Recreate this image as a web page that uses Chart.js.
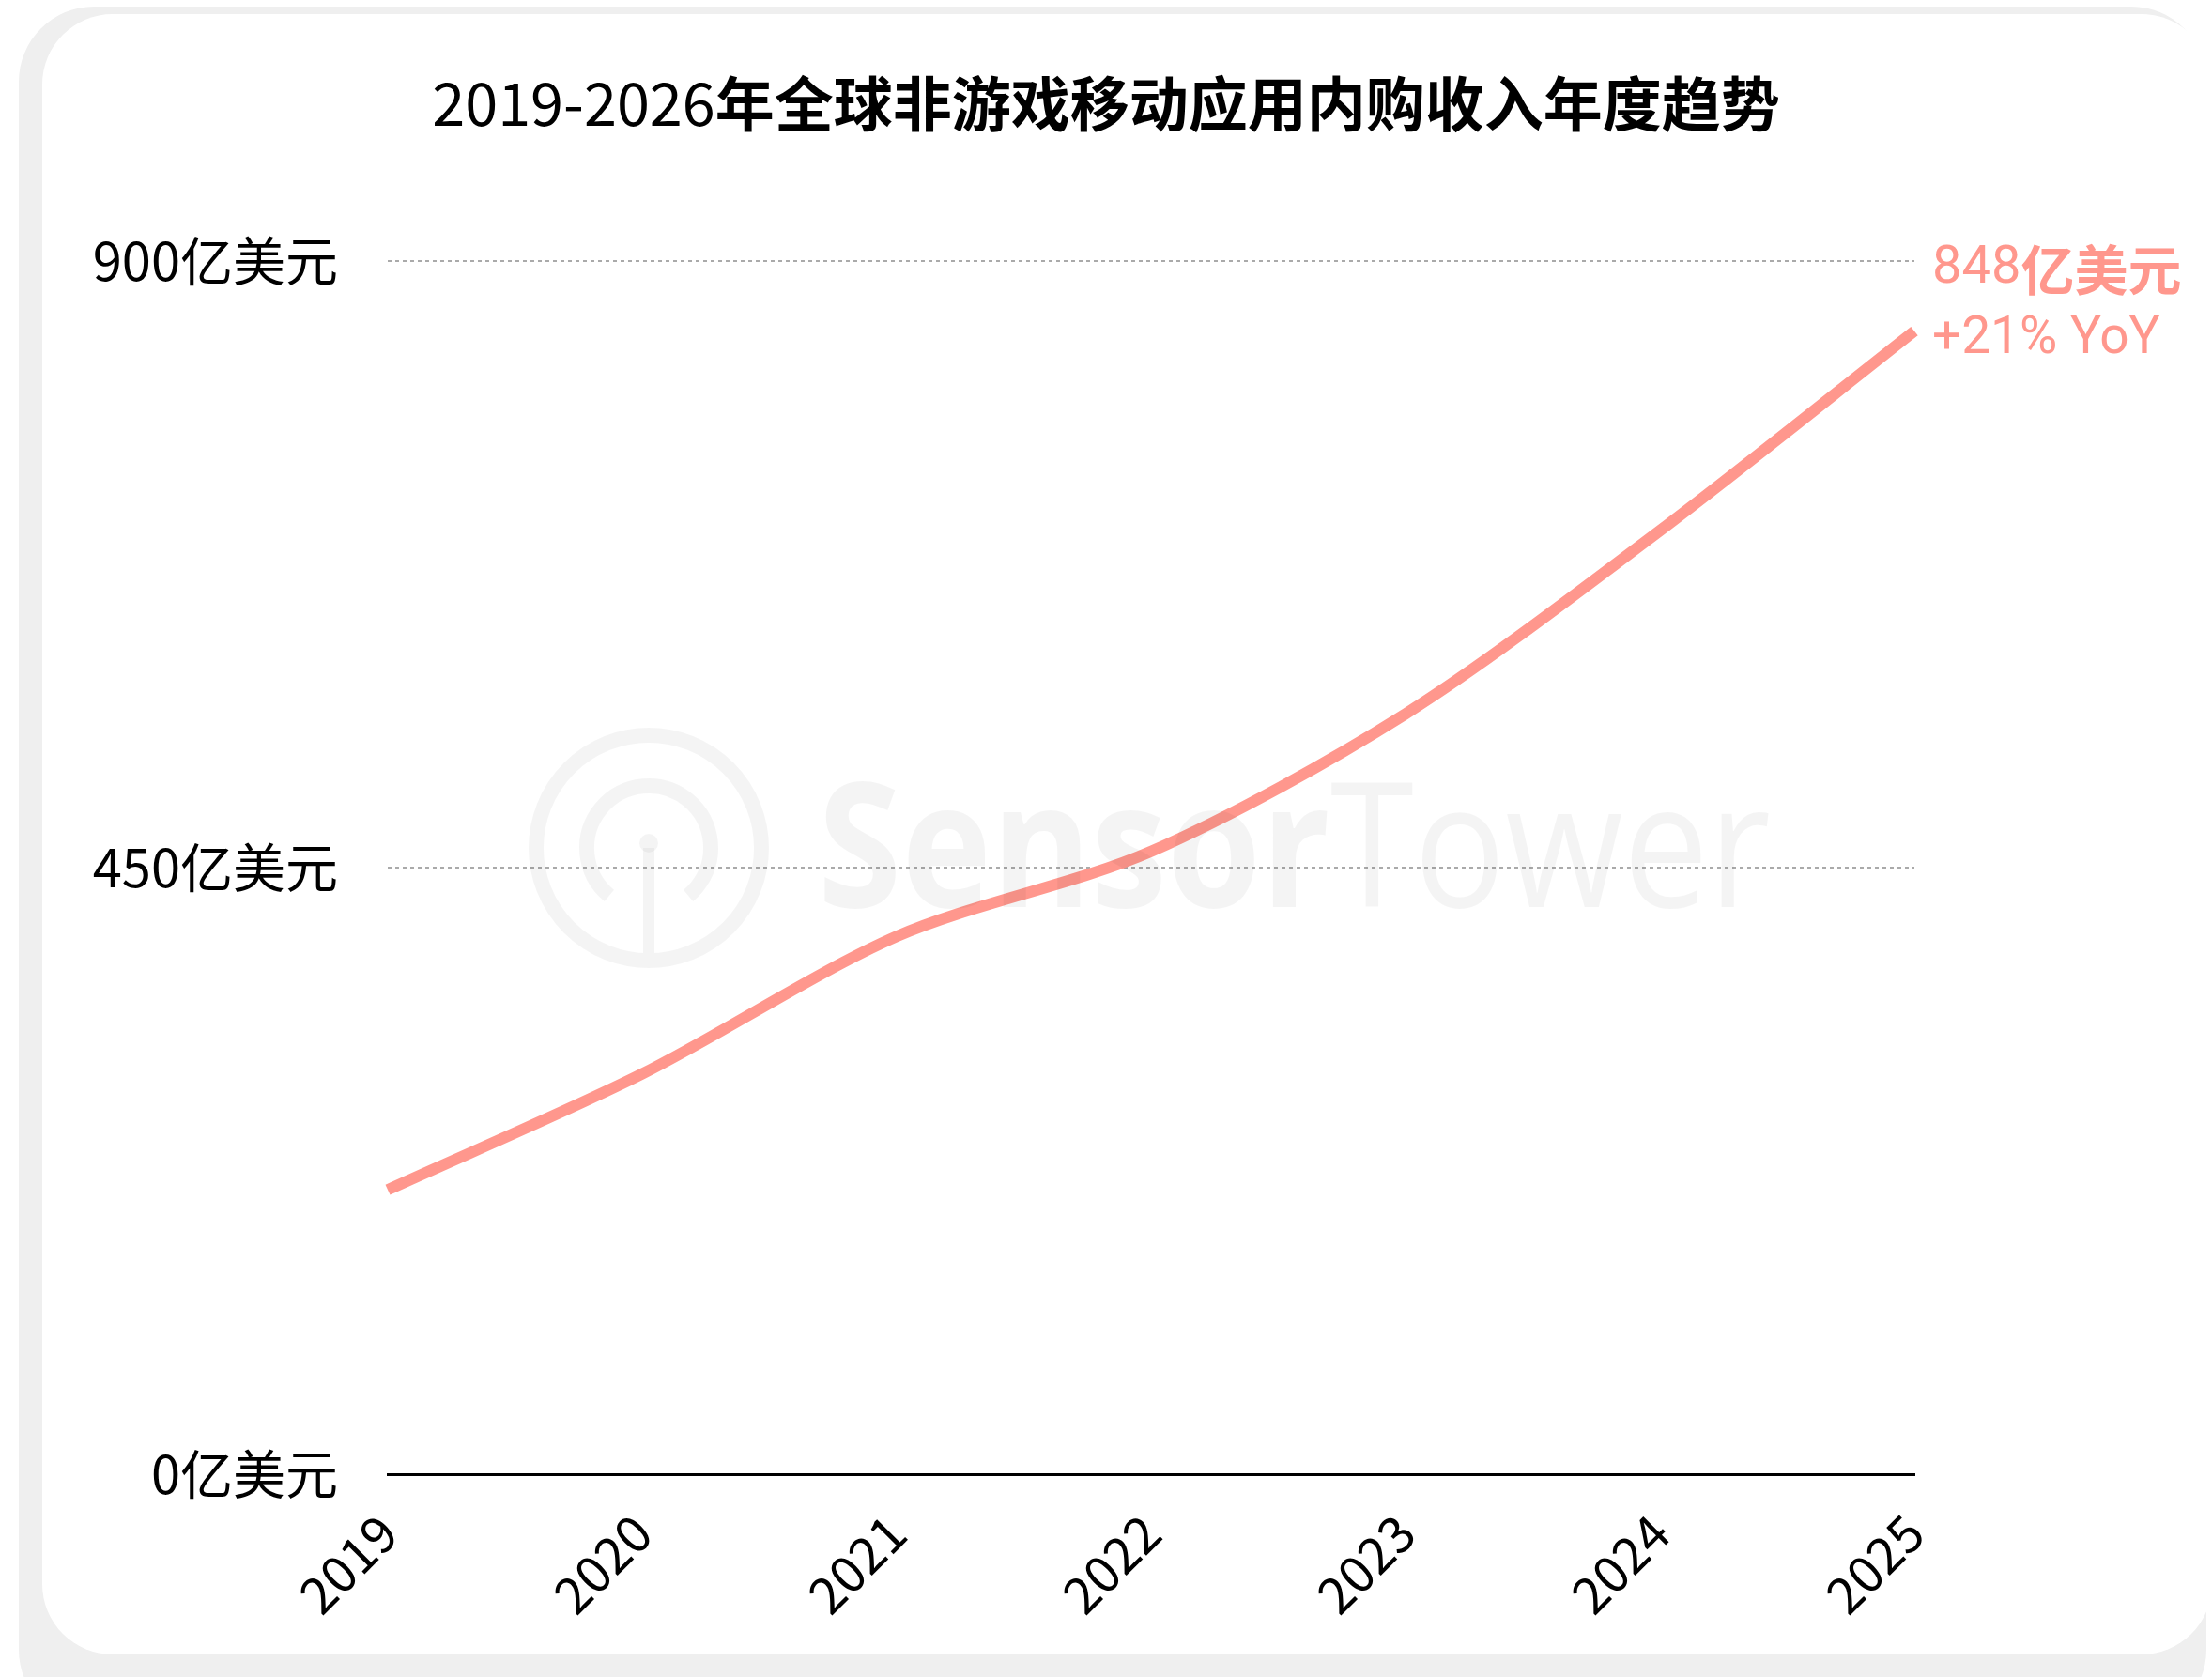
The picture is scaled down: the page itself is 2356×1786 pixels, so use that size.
<!DOCTYPE html>
<html>
<head>
<meta charset="utf-8">
<script src="https://cdn.jsdelivr.net/npm/chart.js@4.4.1/dist/chart.umd.min.js"></script>
<style>
  html, body { margin: 0; padding: 0; background: #fff; overflow: hidden; }
  body { width: 2356px; height: 1786px; position: relative; }
  .shadow { position: absolute; left: 20px; top: 7px; width: 2330px; height: 1830px; background: #efefef; border-radius: 80px; }
  .card { position: absolute; left: 45px; top: 15px; width: 2311px; height: 1747px; background: #fff; border-radius: 75px; }
  #chart { position: absolute; left: 0; top: 0; }
</style>
</head>
<body>
<div class="shadow"></div>
<div class="card"></div>
<canvas id="chart" width="2356" height="1786"></canvas>
<script>
const years = ['2019', '2020', '2021', '2022', '2023', '2024', '2025'];
const revenue = [211, 297, 399, 462, 564, 700, 848];   // 亿美元
const yTicks = [0, 450, 900];
const titleNum = '2019-2026';
const titleText = '年全球非游戏移动应用内购收入年度趋势';
const lastValue = '848';
const lastYoY = '+21% YoY';

const salmon = '#FF978D';
const cjk = '"Noto Sans CJK SC", "Noto Sans", sans-serif';

// Title: digits regular, Chinese bold
const titlePlugin = {
    id: 'mixedTitle',
    afterDraw(chart) {
        const ctx = chart.ctx;
        ctx.save();
        ctx.textBaseline = 'middle';
        ctx.fillStyle = '#000';
        const f1 = '400 63px ' + cjk;
        const f2 = '700 63px ' + cjk;
        ctx.font = f1;
        const w1 = ctx.measureText(titleNum).width;
        ctx.font = f2;
        const w2 = ctx.measureText(titleText).width;
        let x = chart.width / 2 - (w1 + w2) / 2;
        ctx.textAlign = 'left';
        ctx.font = f1;
        ctx.fillText(titleNum, x, 110);
        ctx.font = f2;
        ctx.fillText(titleText, x + w1, 110);
        ctx.restore();
    }
};

// Label next to the last point
const endLabelPlugin = {
    id: 'endLabel',
    afterDatasetsDraw(chart) {
        const ctx = chart.ctx;
        const x = chart.chartArea.right + 19;
        ctx.save();
        ctx.fillStyle = salmon;
        ctx.textAlign = 'left';
        ctx.textBaseline = 'middle';
        ctx.font = '400 56px Roboto, sans-serif';
        ctx.fillText(lastValue, x, 287);
        const w = ctx.measureText(lastValue).width;
        ctx.font = '700 57px ' + cjk;
        ctx.fillText('亿美元', x + w, 287);
        ctx.font = '400 55px Roboto, sans-serif';
        ctx.fillText(lastYoY, x, 362);
        ctx.restore();
    }
};

// Faint watermark over the plot
const watermarkPlugin = {
    id: 'watermark',
    afterDatasetsDraw(chart) {
        const ctx = chart.ctx;
        ctx.save();
        ctx.strokeStyle = 'rgba(0,0,0,0.045)';
        ctx.fillStyle = 'rgba(0,0,0,0.045)';
        const cx = 691, cy = 903;
        ctx.lineWidth = 16;
        ctx.beginPath();
        ctx.arc(cx, cy, 120, 0, Math.PI * 2);
        ctx.stroke();
        ctx.beginPath();
        ctx.arc(cx, cy, 66, Math.PI * 0.72, Math.PI * 2.28);
        ctx.stroke();
        ctx.lineWidth = 12;
        ctx.beginPath();
        ctx.moveTo(cx, cy);
        ctx.lineTo(cx, cy + 112);
        ctx.stroke();
        ctx.beginPath();
        ctx.arc(cx, cy - 5, 10, 0, Math.PI * 2);
        ctx.fill();

        ctx.textBaseline = 'alphabetic';
        ctx.textAlign = 'left';
        const size = 185;
        ctx.font = '700 ' + size + 'px "Open Sans", sans-serif';
        const ws = ctx.measureText('Sensor').width;
        ctx.font = '400 ' + size + 'px "Open Sans", sans-serif';
        const wt = ctx.measureText('Tower').width;
        const k = 1015 / (ws + wt);
        ctx.translate(871, 966);
        ctx.scale(k, 1);
        ctx.font = '700 ' + size + 'px "Open Sans", sans-serif';
        ctx.fillText('Sensor', 0, 0);
        ctx.font = '400 ' + size + 'px "Open Sans", sans-serif';
        ctx.fillText('Tower', ws, 0);
        ctx.restore();
    }
};

const ctx = document.getElementById('chart').getContext('2d');
new Chart(ctx, {
    type: 'line',
    data: {
        labels: years,
        datasets: [{
            data: revenue,
            borderColor: salmon,
            borderWidth: 12,
            borderCapStyle: 'butt',
            tension: 0.3,
            pointRadius: 0,
            fill: false
        }]
    },
    options: {
        responsive: false,
        devicePixelRatio: 1,
        animation: false,
        layout: { padding: { left: 0, top: 278, right: 317, bottom: 0 } },
        plugins: {
            legend: { display: false },
            title: { display: false },
            tooltip: { enabled: false }
        },
        scales: {
            x: {
                offset: false,
                grid: { display: false, drawTicks: false },
                border: { display: true, color: '#000', width: 3 },
                ticks: {
                    color: '#000',
                    font: { family: cjk, size: 54 },
                    minRotation: 45,
                    maxRotation: 45,
                    padding: 30
                },
                afterFit(scale) { scale.height = 216; }
            },
            y: {
                min: 0,
                max: 900,
                afterBuildTicks(scale) { scale.ticks = yTicks.map(v => ({ value: v })); },
                grid: {
                    drawTicks: false,
                    lineWidth: 2,
                    color: (c) => c.tick && c.tick.value === 0 ? 'rgba(0,0,0,0)' : '#aaaaaa'
                },
                border: { display: false, dash: [4, 4] },
                ticks: {
                    color: '#000',
                    font: { family: cjk, size: 56 },
                    padding: 53,
                    callback: (v) => v + '亿美元'
                },
                afterFit(scale) { scale.width = 413; }
            }
        }
    },
    plugins: [watermarkPlugin, endLabelPlugin, titlePlugin]
});
</script>
</body>
</html>
